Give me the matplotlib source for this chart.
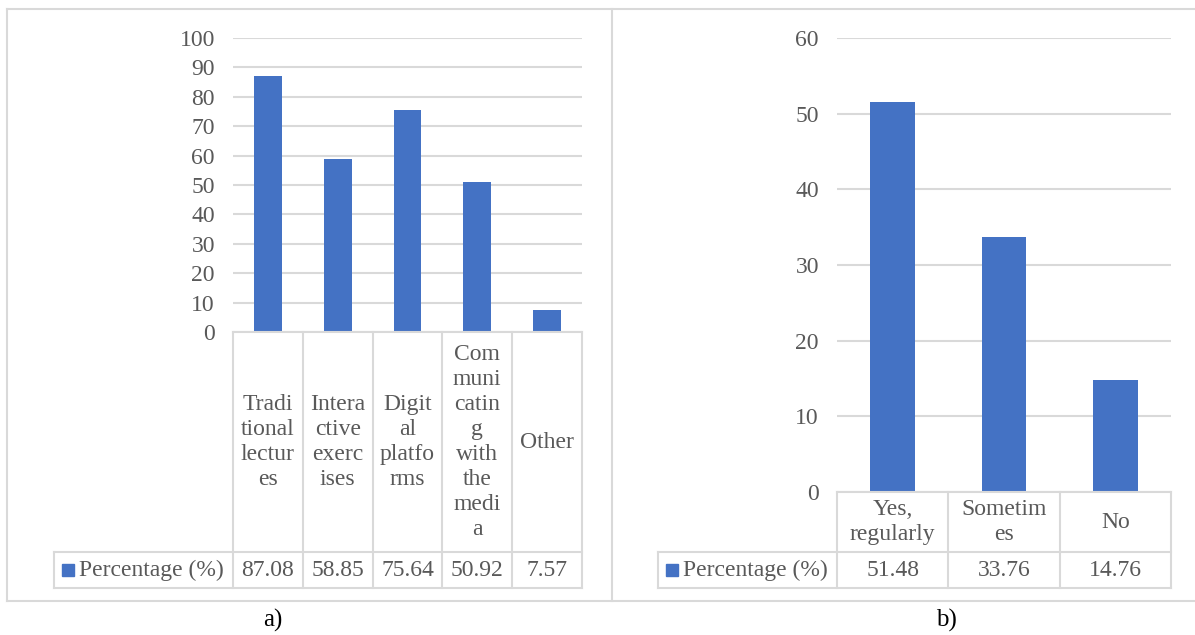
import matplotlib.pyplot as plt
import matplotlib.transforms as mtransforms
from matplotlib.lines import Line2D
from matplotlib.patches import Rectangle

plt.rcParams['font.family'] = ['Liberation Serif', 'DejaVu Serif']

# data
cats_a = ["Tradi\ntional\nlectur\nes", "Intera\nctive\nexerc\nises", "Digit\nal\nplatfo\nrms",
          "Com\nmuni\ncatin\ng\nwith\nthe\nmedi\na", "Other"]
vals_a = [87.08, 58.85, 75.64, 50.92, 7.57]
ticks_a = [0, 10, 20, 30, 40, 50, 60, 70, 80, 90, 100]

cats_b = ["Yes,\nregularly", "Sometim\nes", "No"]
vals_b = [51.48, 33.76, 14.76]
ticks_b = [0, 10, 20, 30, 40, 50, 60]

series_name = "Percentage (%)"

W, H = 1195, 635
BLUE = '#4472C4'
GRID = '#d9d9d9'
TXT = '#595959'
FS = 17

fig = plt.figure(figsize=(W / 100, H / 100), dpi=100)


def fx(px):
    return px / W


def fy(py):
    return 1 - py / H


# outer frame
frame_kw = dict(color=GRID, lw=1.5, transform=fig.transFigure)
fig.add_artist(Line2D([fx(7), fx(7)], [fy(9), fy(601)], **frame_kw))
fig.add_artist(Line2D([fx(7), 1], [fy(9), fy(9)], **frame_kw))
fig.add_artist(Line2D([fx(7), 1], [fy(601), fy(601)], **frame_kw))
fig.add_artist(Line2D([fx(612), fx(612)], [fy(9), fy(601)], **frame_kw))


def panel(left, right, top, zero, cats, vals, ticks, leg_left, label, label_x):
    ax = fig.add_axes([fx(left), fy(zero), fx(right - left), (zero - top) / H])
    n = len(cats)
    x = list(range(n))
    ax.bar(x, vals, width=0.4, color=BLUE, zorder=3)
    ax.set_xlim(-0.5, n - 0.5)
    ax.set_ylim(ticks[0], ticks[-1])
    ax.set_yticks(ticks)
    ax.set_xticks([])
    ax.yaxis.grid(True, color=GRID, lw=1.5)
    ax.set_axisbelow(True)
    for s in ax.spines.values():
        s.set_visible(False)
    ax.tick_params(axis='y', length=0, pad=13, labelsize=FS, labelcolor=TXT)

    # data table below the plot
    tr = mtransforms.blended_transform_factory(ax.transData, fig.transFigure)
    row1, row2 = 552, 588
    line_kw = dict(color=GRID, lw=1.5, transform=tr, clip_on=False)
    for b in [i - 0.5 for i in range(n + 1)]:
        fig.add_artist(Line2D([b, b], [fy(zero), fy(row2)], **line_kw))
    fig.add_artist(Line2D([-0.5, n - 0.5], [fy(zero), fy(zero)], **line_kw))
    lk = dict(color=GRID, lw=1.5, transform=fig.transFigure)
    for yy in (row1, row2):
        fig.add_artist(Line2D([fx(leg_left), fx(right)], [fy(yy), fy(yy)], **lk))
    fig.add_artist(Line2D([fx(leg_left), fx(leg_left)], [fy(row1), fy(row2)], **lk))

    for i, (c, v) in enumerate(zip(cats, vals)):
        fig.text(i, fy((zero + row1) / 2), c, transform=tr, ha='center', va='center',
                 fontsize=FS, color=TXT, linespacing=1.25)
        fig.text(i, fy((row1 + row2) / 2), f"{v:.2f}", transform=tr, ha='center',
                 va='center', fontsize=FS, color=TXT)

    # legend key inside the table
    fig.add_artist(Rectangle((fx(leg_left + 7.5), fy(576)), fx(12), 12 / H,
                             color=BLUE, transform=fig.transFigure))
    fig.text(fx(leg_left + 25), fy((row1 + row2) / 2), series_name, ha='left',
             va='center', fontsize=FS, color=TXT)
    fig.text(fx(label_x), fy(620), label, ha='center', va='center', fontsize=18,
             color='black')
    return ax


panel(233, 582, 38, 332, cats_a, vals_a, ticks_a, 54, "a)", 273)
panel(837, 1171, 38, 492, cats_b, vals_b, ticks_b, 658, "b)", 946)

fig.savefig('out.png', dpi=100)
